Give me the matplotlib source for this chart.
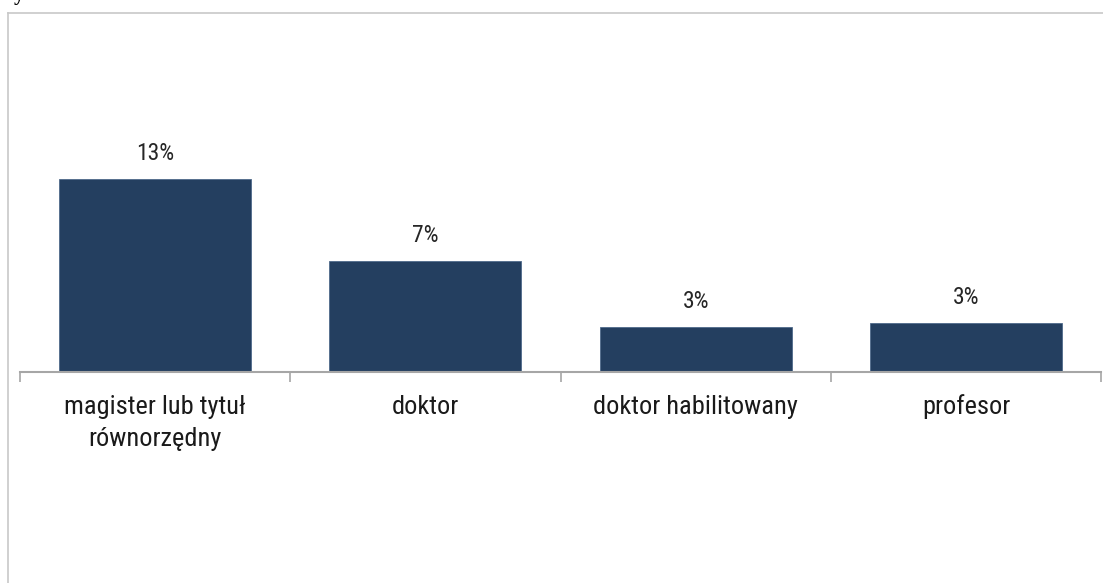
import matplotlib
matplotlib.use("Agg")
import matplotlib.pyplot as plt
from matplotlib.lines import Line2D

# data
categories = ["magister lub tytuł\nrównorzędny", "doktor", "doktor habilitowany", "profesor"]
values = [12.9, 7.4, 3.0, 3.3]  # percent

bar_color = "#243f60"
grid_color = "#a6a6a6"

plt.rcParams["font.family"] = ["Roboto Condensed", "Liberation Sans", "DejaVu Sans"]

W, H = 1103, 583
fig = plt.figure(figsize=(W / 100, H / 100), dpi=100)

# outer chart frame (runs off the right and bottom edges)
fig.add_artist(Line2D([8 / W, 8 / W], [0, 1 - 13 / H], color="#c8c8c8", lw=1.2))
fig.add_artist(Line2D([8 / W, 1], [1 - 13 / H, 1 - 13 / H], color="#c8c8c8", lw=1.2))

# leftover line of text from above the chart
fig.text(14 / W, 1.0, "yczne", family=["Liberation Serif", "DejaVu Serif"],
         fontsize=15, fontweight="bold", va="baseline", ha="left")

ax = fig.add_axes([20 / W, (H - 372) / H, 1081 / W, 312 / H])
x = range(len(values))
ax.bar(x, values, width=0.71, color=bar_color, edgecolor="#4f6a8a", linewidth=0.6)

for xi, v in zip(x, values):
    ax.annotate(f"{v:.0f}%", xy=(xi, v), xytext=(0, 19), textcoords="offset pixels",
                ha="center", va="baseline", fontsize=17, color="#262626")

ax.set_xlim(-0.5, len(values) - 0.5)
ax.set_ylim(0, 20.85)

for s in ["top", "right", "left"]:
    ax.spines[s].set_visible(False)
ax.spines["bottom"].set_color(grid_color)
ax.spines["bottom"].set_linewidth(1.5)

ax.set_yticks([])
ax.set_xticks([i - 0.5 for i in range(len(values) + 1)])
ax.set_xticklabels([])
ax.tick_params(axis="x", length=7, width=1.2, color=grid_color, direction="out")

# category labels centred under each bar, one line at a time
for xi, lab in zip(x, categories):
    for k, line in enumerate(lab.split("\n")):
        ax.annotate(line, xy=(xi, 0), xytext=(0, -42 - 32 * k), textcoords="offset pixels",
                    ha="center", va="baseline", fontsize=19, color="#1a1a1a")

fig.savefig("out.png", dpi=100)
